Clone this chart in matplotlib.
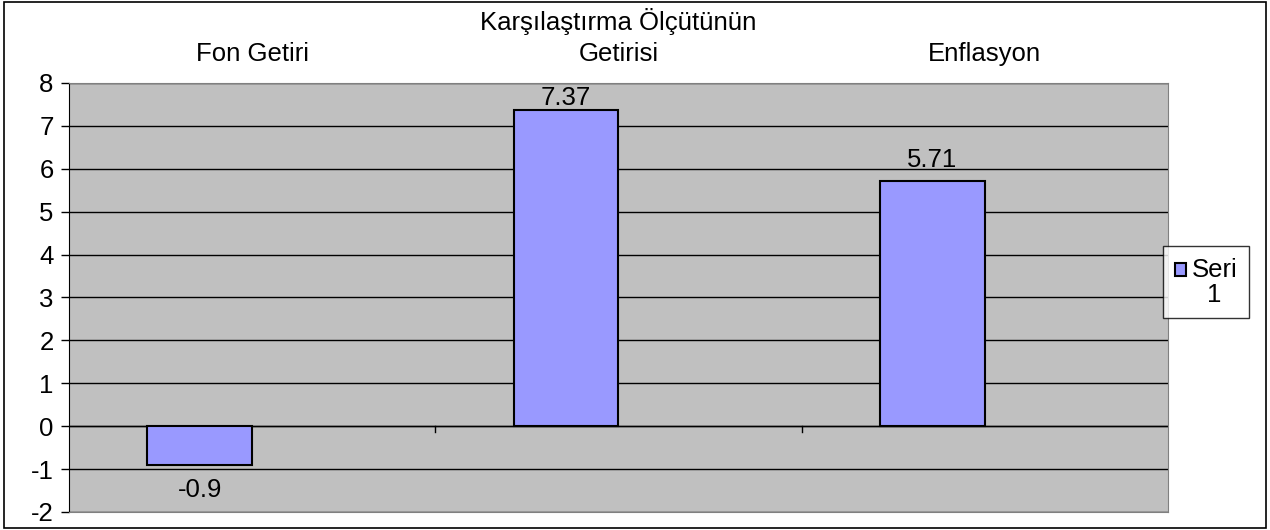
import matplotlib.pyplot as plt
import numpy as np

plt.rcParams["font.family"] = ["Liberation Sans", "DejaVu Sans"]
plt.rcParams["axes.unicode_minus"] = False

categories = ["Fon Getiri", "Karşılaştırma Ölçütünün\nGetirisi", "Enflasyon"]
values = [-0.9, 7.37, 5.71]
labels = ["-0.9", "7.37", "5.71"]
series_name = "Seri\n1"

FS = 18.5

fig = plt.figure(figsize=(12.7, 5.3), dpi=100)
ax = fig.add_axes([0.0543, 0.034, 0.8654, 0.8094])
ax.set_facecolor("#C0C0C0")

x = np.arange(len(categories))
width = 0.286
bars = ax.bar(x - width / 2, values, width, color="#9999FF", edgecolor="black",
              linewidth=1.5, zorder=3, label=series_name)

ax.set_xlim(-0.5, len(categories) - 0.5)
ax.set_ylim(-2, 8)
ax.set_yticks(range(-2, 9))
ax.yaxis.grid(True, color="black", linewidth=1.0, zorder=1)
ax.axhline(0, color="black", linewidth=1.0, zorder=2)
ax.tick_params(axis="y", labelsize=FS, length=6, width=1, pad=5)

# category labels along the top, small dividers on the zero line
ax.set_xticks(x)
ax.set_xticklabels(categories, fontsize=FS, linespacing=1.4)
ax.xaxis.tick_top()
ax.tick_params(axis="x", length=0, pad=12)
for b in x[:-1] + 0.5:
    ax.plot([b, b], [0, -0.13], color="black", linewidth=1, zorder=2)

for rect, val, txt in zip(bars, values, labels):
    cx = rect.get_x() + rect.get_width() / 2
    if val >= 0:
        off = 0.0 if val > 7 else 0.22
        ax.text(cx, val + off, txt, ha="center", va="bottom", fontsize=FS)
    else:
        ax.text(cx, val - 0.3, txt, ha="center", va="top", fontsize=FS)

for side in ("top", "right", "bottom"):
    ax.spines[side].set_color("#808080")
ax.spines["left"].set_color("black")

leg = ax.legend(loc="center left", bbox_to_anchor=(0.9955, 0.536), fontsize=FS,
                frameon=True, fancybox=False, edgecolor="black",
                handlelength=0.45, handleheight=0.45, handletextpad=0.2,
                borderpad=0.45, borderaxespad=0)
leg.get_frame().set_linewidth(1.0)
for t in leg.get_texts():
    t.set_multialignment("center")
    t.set_linespacing(1.05)
# Excel puts the key next to the first line of the label
for p in leg.get_patches():
    p.set_y(p.get_y() + 0.5 * FS)

fig.patches.append(plt.Rectangle((0.003, 0.004), 0.994, 0.992, transform=fig.transFigure,
                                 fill=False, edgecolor="black", linewidth=1.2))

fig.savefig("out.png", dpi=100)
